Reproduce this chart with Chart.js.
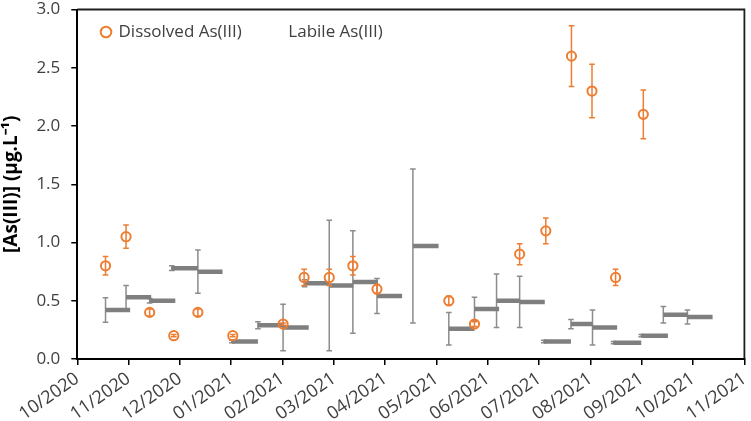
<!DOCTYPE html>
<html><head><meta charset="utf-8">
<script src="https://cdn.jsdelivr.net/npm/chart.js@4.4.0/dist/chart.umd.min.js"></script>
<style>html,body{margin:0;padding:0;background:#fff;}#wrap{width:751px;height:421px;}</style>
</head><body><div id="wrap"><canvas id="c" width="751" height="421"></canvas></div>
<script>
// x positions are expressed in months since 10/2020 (0 = 10/2020, 13 = 11/2021)
const monthLabels = ['10/2020','11/2020','12/2020','01/2021','02/2021','03/2021','04/2021','05/2021','06/2021','07/2021','08/2021','09/2021','10/2021','11/2021'];
const yTicks = [0, 0.5, 1.0, 1.5, 2.0, 2.5, 3.0];

const dissolvedMonth = [0.55,0.95,1.41,1.88,2.35,3.03,4.01,4.42,4.91,5.37,5.84,7.24,7.74,8.62,9.13,9.63,10.03,10.49,11.03];
const dissolvedValue = [0.80,1.05,0.40,0.20,0.40,0.20,0.30,0.70,0.70,0.80,0.60,0.50,0.30,0.90,1.10,2.60,2.30,0.70,2.10];
const dissolvedError = [0.08,0.10,0.03,0.01,0.03,0.01,0.01,0.07,0.07,0.08,0.04,0.04,0.02,0.09,0.11,0.26,0.23,0.07,0.21];

const labileStart = [0.55,0.95,1.41,1.84,2.35,3.01,3.52,4.01,4.43,4.91,5.37,5.84,6.54,7.24,7.74,8.17,8.62,9.09,9.62,10.04,10.45,10.99,11.42,11.89];
const labileEnd   = [1.03,1.44,1.91,2.35,2.83,3.52,4.02,4.51,4.91,5.38,5.86,6.33,7.04,7.74,8.22,8.62,9.11,9.62,10.04,10.52,10.99,11.51,11.89,12.38];
const labileValue = [0.42,0.53,0.50,0.78,0.75,0.15,0.29,0.27,0.65,0.63,0.66,0.54,0.97,0.26,0.43,0.50,0.49,0.15,0.30,0.27,0.14,0.20,0.38,0.36];
const labileError = [0.105,0.10,0.02,0.02,0.185,0.01,0.03,0.20,0.03,0.56,0.44,0.15,0.66,0.14,0.10,0.23,0.22,0.01,0.04,0.15,0.01,0.01,0.07,0.06];

const ORANGE = '#ED7D31';
const GREY = '#7F7F7F';
const ERR_GREY = '#8C8C8C';

const dissolvedPoints = dissolvedMonth.map((m, i) => ({x: m, y: dissolvedValue[i]}));
const labileLine = [];
labileStart.forEach((s, i) => {
  labileLine.push({x: s, y: labileValue[i]}, {x: labileEnd[i], y: labileValue[i]}, {x: labileEnd[i], y: null});
});

function drawErrors(chart, xs, ys, errs, color) {
  const ctx = chart.ctx, xs_ = chart.scales.x, ys_ = chart.scales.y;
  ctx.save();
  ctx.strokeStyle = color;
  ctx.lineWidth = 1.5;
  const cap = 2.8;
  xs.forEach((xv, i) => {
    const px = xs_.getPixelForValue(xv);
    const top = ys_.getPixelForValue(ys[i] + errs[i]);
    const bot = ys_.getPixelForValue(ys[i] - errs[i]);
    ctx.beginPath();
    ctx.moveTo(px, top); ctx.lineTo(px, bot);
    ctx.moveTo(px - cap, top); ctx.lineTo(px + cap, top);
    ctx.moveTo(px - cap, bot); ctx.lineTo(px + cap, bot);
    ctx.stroke();
  });
  ctx.restore();
}

const errorBars = {
  id: 'errorBars',
  beforeDatasetsDraw(chart) { drawErrors(chart, labileStart, labileValue, labileError, ERR_GREY); },
  afterDatasetsDraw(chart) { drawErrors(chart, dissolvedMonth, dissolvedValue, dissolvedError, ORANGE); }
};

const frame = {
  id: 'frame',
  afterDraw(chart) {
    const {ctx, chartArea: a} = chart;
    ctx.save();
    ctx.strokeStyle = '#1e1e1e';
    ctx.lineWidth = 1.8;
    ctx.beginPath();
    ctx.moveTo(a.left, a.top); ctx.lineTo(a.right, a.top); ctx.lineTo(a.right, a.bottom);
    ctx.stroke();
    ctx.restore();
  }
};

const legendPlacer = {
  id: 'legendPlacer',
  afterLayout(chart) {
    const lg = chart.legend;
    const p = lg.options.labels.padding;
    lg.left = 102 - p;
    lg.top = 23.5 - p;
    lg.right = 720;
    lg.bottom = lg.top + 60;
    lg.width = lg.right - lg.left;
    lg.height = lg.bottom - lg.top;
  }
};

Chart.defaults.font.family = "'Open Sans', sans-serif";

new Chart(document.getElementById('c'), {
  type: 'scatter',
  data: {
    datasets: [
      {
        label: 'Dissolved As(III)',
        data: dissolvedPoints,
        pointStyle: 'circle',
        pointRadius: 4.6,
        pointBorderWidth: 2,
        borderWidth: 2,
        borderColor: ORANGE,
        backgroundColor: 'rgba(0,0,0,0)',
        pointBackgroundColor: 'rgba(0,0,0,0)',
        showLine: false
      },
      {
        label: 'Labile As(III)',
        data: labileLine,
        showLine: true,
        spanGaps: false,
        pointRadius: 0,
        borderColor: GREY,
        backgroundColor: GREY,
        borderWidth: 4.5,
        borderCapStyle: 'butt'
      }
    ]
  },
  options: {
    responsive: false,
    animation: false,
    devicePixelRatio: 1,
    layout: {padding: {left: 0, top: 9.5, right: 2.3, bottom: 0}},
    plugins: {
      tooltip: {enabled: false},
      legend: {
        position: 'top',
        align: 'start',
        maxHeight: 0.01,
        labels: {
          usePointStyle: true,
          boxWidth: 8,
          boxHeight: 7.5,
          padding: 30,
          color: '#404040',
          font: {size: 17},
          generateLabels(chart) {
            const items = Chart.defaults.plugins.legend.labels.generateLabels(chart);
            items.forEach((it, i) => {
              if (i === 0) { it.fillStyle = 'rgba(0,0,0,0)'; it.strokeStyle = ORANGE; it.lineWidth = 2; it.pointStyle = 'circle'; }
              else { it.fillStyle = 'rgba(0,0,0,0)'; it.strokeStyle = 'rgba(0,0,0,0)'; it.lineWidth = 0; }
            });
            return items;
          }
        }
      }
    },
    scales: {
      x: {
        type: 'linear',
        min: 0, max: 13,
        afterBuildTicks(s) { s.ticks = monthLabels.map((_, i) => ({value: i})); },
        afterFit(s) { s.height = 62; s.paddingRight = 0; s.paddingLeft = 0; },
        ticks: {
          callback: (v) => monthLabels[v],
          minRotation: 35, maxRotation: 35,
          autoSkip: false,
          padding: 3,
          color: '#404040',
          font: {size: 18}
        },
        grid: {display: true, drawOnChartArea: false, drawTicks: true, tickLength: 6, color: '#000', lineWidth: 1.5},
        border: {display: true, color: '#000', width: 2}
      },
      y: {
        min: 0, max: 3,
        afterBuildTicks(s) { s.ticks = yTicks.map(v => ({value: v})); },
        afterFit(s) { s.width = 77.3; s.paddingTop = 0; s.paddingBottom = 0; },
        ticks: {
          callback: (v) => Number(v).toFixed(1),
          padding: 11,
          color: '#404040',
          font: {size: 17}
        },
        title: {
          display: true,
          text: '[As(III)] (µg.L⁻¹)',
          color: '#000',
          font: {size: 19, weight: 'bold'},
          padding: {top: 0, bottom: 0}
        },
        grid: {display: true, drawOnChartArea: false, drawTicks: true, tickLength: 6, color: '#000', lineWidth: 1.5},
        border: {display: true, color: '#000', width: 2}
      }
    }
  },
  plugins: [errorBars, frame, legendPlacer]
});
</script>
</body></html>
